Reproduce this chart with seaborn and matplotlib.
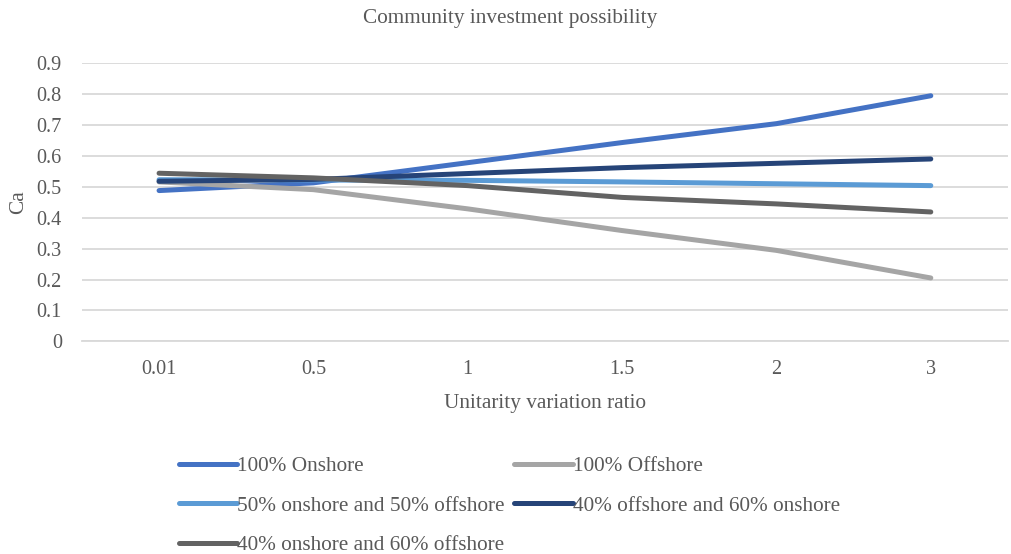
import matplotlib
matplotlib.use("Agg")
import matplotlib.pyplot as plt
import seaborn as sns
import pandas as pd

# Categories on the x axis (unitarity variation ratio)
ratios = ["0.01", "0.5", "1", "1.5", "2", "3"]

# Ca values for each energy mix
onshore_100 = [0.487, 0.512, 0.577, 0.642, 0.703, 0.793]
offshore_100 = [0.515, 0.490, 0.428, 0.358, 0.294, 0.205]
mix_50_50 = [0.522, 0.521, 0.520, 0.515, 0.509, 0.503]
off40_on60 = [0.517, 0.523, 0.542, 0.561, 0.575, 0.589]
on40_off60 = [0.543, 0.528, 0.503, 0.465, 0.444, 0.418]

series_names = [
    "100% Onshore",
    "100% Offshore",
    "50% onshore and 50% offshore",
    "40% offshore and 60% onshore",
    "40% onshore and 60% offshore",
]
series_values = [onshore_100, offshore_100, mix_50_50, off40_on60, on40_off60]
colors = ["#4472C4", "#A5A5A5", "#5B9BD5", "#264478", "#636363"]

rows = []
for name, vals in zip(series_names, series_values):
    for i, (r, v) in enumerate(zip(ratios, vals)):
        rows.append({"pos": i, "ratio": r, "Ca": v, "series": name})
df = pd.DataFrame(rows)

sns.set_theme(style="white")
text_color = "#595959"
plt.rcParams["font.family"] = ["Liberation Serif", "DejaVu Serif"]
plt.rcParams["text.color"] = text_color

tick_fs = 14.6
label_fs = 15.3

fig = plt.figure(figsize=(10.11, 5.54), dpi=100)
ax = fig.add_axes([0.081, 0.3836, 0.916, 0.5034])

sns.lineplot(
    data=df, x="pos", y="Ca", hue="series", hue_order=series_names,
    palette=colors, linewidth=3.6, ax=ax, legend=False, sort=False,
    solid_capstyle="round",
)

ax.set_xlim(-0.5, len(ratios) - 0.5)
ax.set_ylim(0, 0.9)
ax.set_xticks(range(len(ratios)))
ax.set_xticklabels(ratios)
ax.set_yticks([i / 10 for i in range(10)])
ax.set_yticklabels(["0"] + [f"{i / 10:.1f}" for i in range(1, 10)])
ax.tick_params(axis="both", length=0, labelsize=tick_fs, colors=text_color)
ax.tick_params(axis="y", pad=14.5)
ax.tick_params(axis="x", pad=13)
ax.grid(axis="y", color="#D9D9D9", linewidth=1.3)
ax.set_axisbelow(True)
for s in ["top", "right", "left"]:
    ax.spines[s].set_visible(False)
ax.spines["bottom"].set_color("#D9D9D9")
ax.spines["bottom"].set_linewidth(1.3)

ax.set_xlabel("Unitarity variation ratio", fontsize=label_fs, color=text_color, labelpad=11)
ax.set_ylabel("Ca", fontsize=label_fs, color=text_color, labelpad=6)
fig.text(0.5047, 0.966, "Community investment possibility", ha="center",
         va="center", fontsize=label_fs, color=text_color)

handles = [plt.Line2D([0], [0], color=c, linewidth=3.6, solid_capstyle="round")
           for c in colors]
order = [0, 2, 4, 1, 3]
fig.legend(
    [handles[i] for i in order], [series_names[i] for i in order],
    loc="upper left", bbox_to_anchor=(0.177, 0.176), ncol=2,
    frameon=False, fontsize=label_fs, handlelength=2.75, handletextpad=0.0,
    columnspacing=0.45, labelspacing=0.92, labelcolor=text_color,
    borderaxespad=0, borderpad=0,
)

fig.savefig("out.png", dpi=100)
